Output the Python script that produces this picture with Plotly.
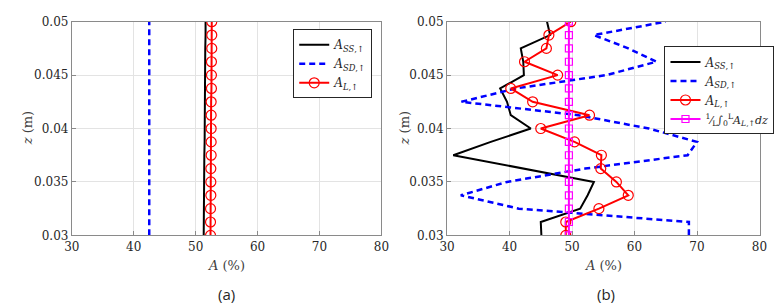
import plotly.graph_objects as go

# ---------------- data ----------------
z = [0.03, 0.03125, 0.0325, 0.03375, 0.035, 0.03625, 0.0375, 0.03875, 0.04,
     0.04125, 0.0425, 0.04375, 0.045, 0.04625, 0.0475, 0.04875, 0.05]

# panel (a)
a_ss = [51.3, 51.3, 51.35, 51.35, 51.4, 51.4, 51.4, 51.45, 51.45,
        51.45, 51.5, 51.5, 51.5, 51.55, 51.55, 51.6, 51.6]
a_sd = [42.5] * 17
a_l = [52.4, 52.4, 52.4, 52.45, 52.45, 52.45, 52.5, 52.5, 52.5,
       52.5, 52.5, 52.55, 52.55, 52.55, 52.6, 52.6, 52.6]

# panel (b)
b_ss = [45.1, 45.0, 51.3, 52.5, 53.5, 42.0, 31.0, 37.0, 43.4,
        40.2, 39.6, 38.5, 42.3, 42.2, 41.8, 46.5, 46.0]
b_sd = [68.7, 68.7, 41.5, 32.2, 39.6, 52.1, 68.5, 70.0, 62.3,
        51.0, 32.3, 41.0, 55.5, 63.5, 59.0, 53.5, 65.0]
b_l = [49.0, 49.0, 54.3, 59.0, 57.1, 54.6, 54.7, 50.4, 45.0,
       52.8, 43.7, 40.2, 47.7, 42.4, 45.9, 46.3, 49.8]
b_mean = [49.5] * 17

x_ticks = [30, 40, 50, 60, 70, 80]
y_ticks = [0.03, 0.035, 0.04, 0.045, 0.05]
y_ticklabels = ["0.03", "0.035", "0.04", "0.045", "0.05"]

lab_ss = "<i>A</i><sub><i>SS</i>,↑</sub>"
lab_sd = "<i>A</i><sub><i>SD</i>,↑</sub>"
lab_l = "<i>A</i><sub><i>L</i>,↑</sub>"
lab_mean = ("<span style='font-size:11px'><sup>1</sup>⁄<sub>L</sub>∫<sub>0</sub><sup>L</sup>"
            "<i>A</i><sub><i>L</i>,↑</sub><i>dz</i></span>")

W, H = 784, 304
SERIF = "DejaVu Serif"

fig = go.Figure()

def add(xs, name, color, xa, ya, legend, dash="solid", width=2, marker=None, msize=9):
    kw = dict(x=xs, y=z, name=name, xaxis=xa, yaxis=ya, legend=legend,
              line=dict(color=color, width=width, dash=dash))
    if marker:
        kw["mode"] = "lines+markers"
        kw["marker"] = dict(symbol=marker, size=msize, color=color,
                            line=dict(color=color, width=1.2))
    else:
        kw["mode"] = "lines"
    fig.add_trace(go.Scatter(**kw))

add(a_ss, lab_ss, "black", "x", "y", "legend")
add(a_sd, lab_sd, "#0000ff", "x", "y", "legend", dash="6px,4px", width=2.5)
add(a_l, lab_l, "#ff0000", "x", "y", "legend", marker="circle-open", msize=10)

add(b_ss, lab_ss, "black", "x2", "y2", "legend2")
add(b_sd, lab_sd, "#0000ff", "x2", "y2", "legend2", dash="6px,4px", width=2.5)
add(b_l, lab_l, "#ff0000", "x2", "y2", "legend2", marker="circle-open", msize=10)
add(b_mean, lab_mean, "#ff00ff", "x2", "y2", "legend2", marker="square-open", msize=7)

ydom = [1 - 231 / H, 1 - 7 / H]
yrange = [0.0299999, 0.0500001]
axis_common = dict(showline=True, mirror=True, linecolor="#8a8a8a", linewidth=1,
                   showgrid=True, gridcolor="#e3e3e3", gridwidth=1,
                   ticks="inside", ticklen=4, tickcolor="#8a8a8a", zeroline=False,
                   ticklabeloverflow="allow",
                   tickfont=dict(family=SERIF, size=12, color="#262626"))

leg_common = dict(xanchor="left", yanchor="top", bgcolor="white",
                  bordercolor="#262626", borderwidth=1,
                  font=dict(family=SERIF, size=12, color="#262626"),
                  tracegroupgap=0, itemwidth=30)

fig.update_layout(
    width=W, height=H, margin=dict(l=0, r=0, t=0, b=0),
    paper_bgcolor="white", plot_bgcolor="white",
    font=dict(family=SERIF, size=12, color="#262626"),
    xaxis=dict(domain=[57 / W, 373 / W], range=[30, 80], tickvals=x_ticks, anchor="y", **axis_common),
    yaxis=dict(domain=ydom, range=yrange, tickvals=y_ticks, ticktext=y_ticklabels, anchor="x", **axis_common),
    xaxis2=dict(domain=[440 / W, 759 / W], range=[30, 80], tickvals=x_ticks, anchor="y2", **axis_common),
    yaxis2=dict(domain=ydom, range=yrange, tickvals=y_ticks, ticktext=y_ticklabels, anchor="x2", **axis_common),
    legend=dict(x=283 / W, y=1 - 15 / H, **leg_common),
    legend2=dict(x=662 / W, y=1 - 33 / H, **leg_common),
    showlegend=True,
)

ann_font = dict(family=SERIF, size=13, color="#404040")
for cx in [215, 600]:
    fig.add_annotation(text="<i>A</i> (%)", x=cx / W, y=1 - 263 / H, xref="paper", yref="paper",
                       showarrow=False, font=ann_font, xanchor="center", yanchor="middle")
for cx in [12, 397]:
    fig.add_annotation(text="<i>z</i> (m)", x=cx / W, y=1 - 119 / H, xref="paper", yref="paper",
                       showarrow=False, font=ann_font, textangle=-90, xanchor="center", yanchor="middle")
for cx, t in [(215, "(a)"), (602, "(b)")]:
    fig.add_annotation(text=t, x=cx / W, y=1 - 292 / H, xref="paper", yref="paper",
                       showarrow=False, font=dict(family="Open Sans", size=15, color="#262626"),
                       xanchor="center", yanchor="middle")

fig.write_html("out.html")
